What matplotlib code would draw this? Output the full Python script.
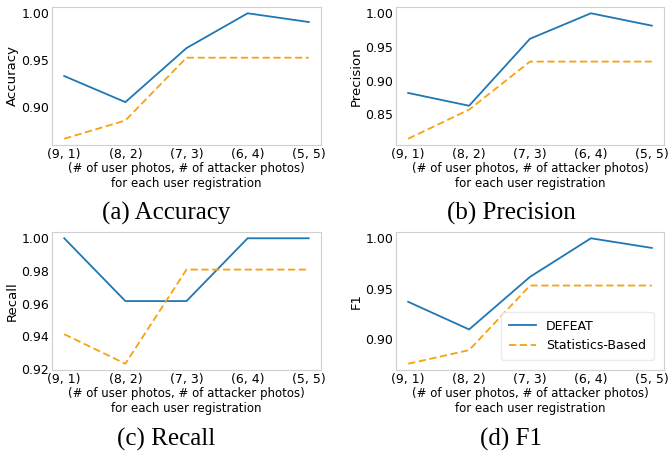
import matplotlib
matplotlib.use("Agg")
import matplotlib.pyplot as plt

categories = ["(9, 1)", "(8, 2)", "(7, 3)", "(6, 4)", "(5, 5)"]
series_names = ["DEFEAT", "Statistics-Based"]

accuracy_defeat = [0.9333, 0.9056, 0.9630, 1.0, 0.9907]
accuracy_stats = [0.8667, 0.8861, 0.9528, 0.9528, 0.9528]
precision_defeat = [0.8816, 0.8626, 0.9621, 1.0, 0.9816]
precision_stats = [0.8136, 0.8568, 0.9282, 0.9282, 0.9282]
recall_defeat = [1.0, 0.9615, 0.9615, 1.0, 1.0]
recall_stats = [0.9412, 0.9231, 0.9808, 0.9808, 0.9808]
f1_defeat = [0.9368, 0.9093, 0.9616, 1.0, 0.9904]
f1_stats = [0.8752, 0.8887, 0.9530, 0.9530, 0.9530]

panels = [
    ("Accuracy", "(a) Accuracy", accuracy_defeat, accuracy_stats, [0.90, 0.95, 1.00]),
    ("Precision", "(b) Precision", precision_defeat, precision_stats, [0.85, 0.90, 0.95, 1.00]),
    ("Recall", "(c) Recall", recall_defeat, recall_stats, [0.92, 0.94, 0.96, 0.98, 1.00]),
    ("F1", "(d) F1", f1_defeat, f1_stats, [0.90, 0.95, 1.00]),
]

W, H = 669, 455
fig = plt.figure(figsize=(W / 100, H / 100), dpi=100)

boxes = [(52, 7, 321, 145), (396, 7, 664, 145), (52, 232, 321, 370), (396, 232, 664, 370)]
caption_pos = [(166, 213), (511, 213), (166, 439), (511, 439)]

blue = "#1f77b4"
orange = "#f5a30f"
xs = list(range(len(categories)))

for (ylabel, caption, d1, d2, yt), (l, t, r, b), (cx, cy) in zip(panels, boxes, caption_pos):
    ax = fig.add_axes([l / W, 1 - b / H, (r - l) / W, (b - t) / H])
    ax.plot(xs, d1, color=blue, lw=1.3, label=series_names[0])
    ax.plot(xs, d2, color=orange, lw=1.3, ls="--", dashes=(4, 2), label=series_names[1])
    ax.set_xticks(xs)
    ax.set_xticklabels(categories, fontsize=9)
    ax.set_yticks(yt)
    ax.set_yticklabels(["%.2f" % v for v in yt], fontsize=9)
    ax.tick_params(length=0, pad=2)
    for s in ax.spines.values():
        s.set_color("#d0d0d0")
        s.set_linewidth(0.8)
    ax.set_ylabel(ylabel, fontsize=9.5, labelpad=2)
    ax.set_xlabel("(# of user photos, # of attacker photos)\nfor each user registration",
                  fontsize=8.5, labelpad=1, linespacing=1.15)
    fig.text(cx / W, 1 - cy / H, caption, ha="center", va="center",
             fontsize=18, family="Liberation Serif")
    if ylabel == "F1":
        leg = ax.legend(loc="lower right", fontsize=9, frameon=True, fancybox=True,
                        handlelength=2.2, borderpad=0.6, bbox_to_anchor=(0.985, 0.03))
        leg.get_frame().set_edgecolor("#e6e6e6")

fig.savefig("out.png", dpi=100)
